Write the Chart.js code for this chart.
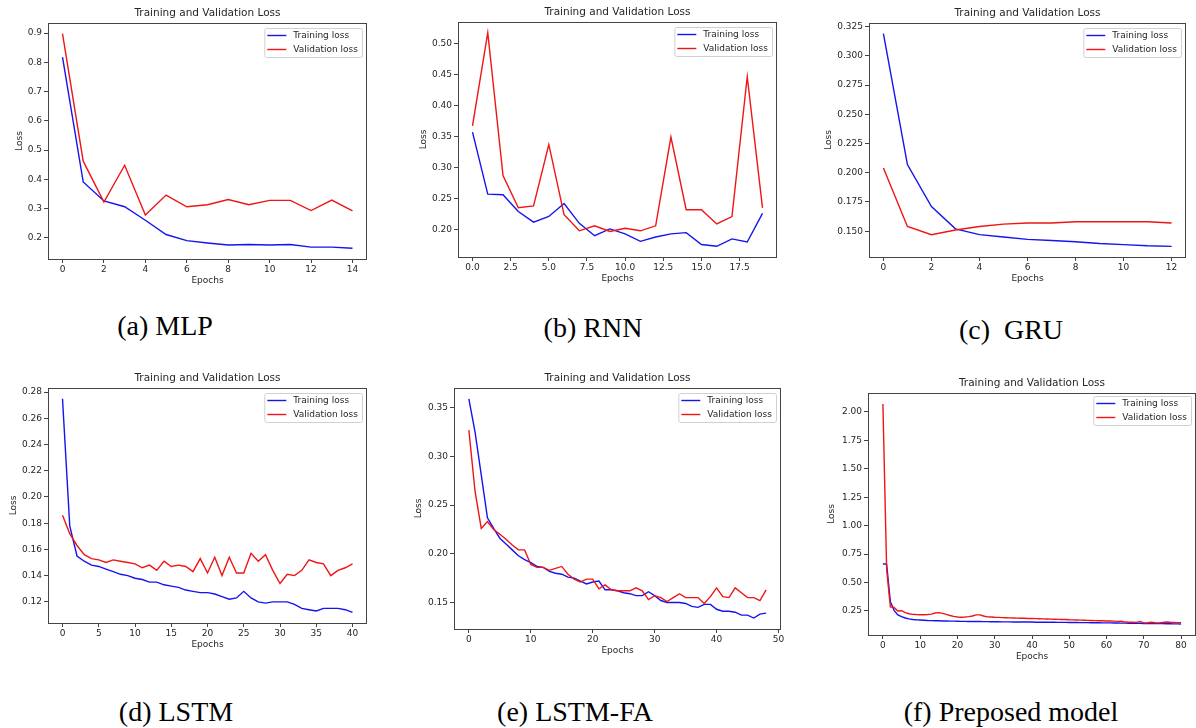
<!DOCTYPE html>
<html>
<head>
<meta charset="utf-8">
<script src="https://cdn.jsdelivr.net/npm/chart.js@4.4.0/dist/chart.umd.min.js"></script>
<style>
  body { margin: 0; background: #fff; width: 1196px; height: 728px; position: relative; overflow: hidden; }
  canvas { position: absolute; }
  .cap { position: absolute; font-family: "Liberation Serif", serif; font-size: 28px; line-height: 1; color: #000; white-space: pre; transform: translate(-50%, -50%); }
</style>
</head>
<body>
<script>
// ---- data ----
const mlpTrain = [0.818, 0.391, 0.326, 0.306, 0.260, 0.211, 0.190, 0.182, 0.175, 0.177, 0.175, 0.177, 0.168, 0.168, 0.164];
const mlpVal   = [0.898, 0.462, 0.322, 0.448, 0.278, 0.346, 0.306, 0.313, 0.331, 0.313, 0.328, 0.328, 0.293, 0.329, 0.292];
const mlpXTicks = ["0", "2", "4", "6", "8", "10", "12", "14"];
const mlpYTicks = ["0.2", "0.3", "0.4", "0.5", "0.6", "0.7", "0.8", "0.9"];

const rnnTrain = [0.357, 0.257, 0.256, 0.229, 0.212, 0.221, 0.242, 0.210, 0.190, 0.201, 0.193, 0.181, 0.188, 0.193, 0.195, 0.176, 0.173, 0.185, 0.180, 0.226];
const rnnVal   = [0.367, 0.517, 0.287, 0.235, 0.238, 0.337, 0.224, 0.198, 0.206, 0.197, 0.202, 0.198, 0.206, 0.349, 0.232, 0.232, 0.209, 0.221, 0.446, 0.235];
const rnnXTicks = ["0.0", "2.5", "5.0", "7.5", "10.0", "12.5", "15.0", "17.5"];
const rnnYTicks = ["0.20", "0.25", "0.30", "0.35", "0.40", "0.45", "0.50"];

const gruTrain = [0.319, 0.207, 0.171, 0.152, 0.147, 0.145, 0.143, 0.142, 0.141, 0.1395, 0.1385, 0.1375, 0.137];
const gruVal   = [0.204, 0.154, 0.147, 0.151, 0.154, 0.156, 0.157, 0.157, 0.158, 0.158, 0.158, 0.158, 0.157];
const gruXTicks = ["0", "2", "4", "6", "8", "10", "12"];
const gruYTicks = ["0.150", "0.175", "0.200", "0.225", "0.250", "0.275", "0.300", "0.325"];

const lstmTrain = [0.275, 0.178, 0.155, 0.151, 0.148, 0.147, 0.145, 0.143, 0.141, 0.140,
                   0.138, 0.137, 0.135, 0.135, 0.133, 0.132, 0.131, 0.129, 0.128, 0.127,
                   0.127, 0.126, 0.124, 0.122, 0.123, 0.128, 0.123, 0.120, 0.119, 0.120,
                   0.120, 0.120, 0.118, 0.115, 0.114, 0.113, 0.115, 0.115, 0.115, 0.114, 0.112];
const lstmVal   = [0.186, 0.172, 0.163, 0.156, 0.153, 0.152, 0.150, 0.152, 0.151, 0.150,
                   0.149, 0.146, 0.148, 0.144, 0.151, 0.147, 0.148, 0.147, 0.143, 0.153,
                   0.142, 0.154, 0.140, 0.154, 0.142, 0.142, 0.157, 0.151, 0.156, 0.144,
                   0.134, 0.141, 0.140, 0.144, 0.152, 0.150, 0.149, 0.140, 0.144, 0.146, 0.149];
const lstmXTicks = ["0", "5", "10", "15", "20", "25", "30", "35", "40"];
const lstmYTicks = ["0.12", "0.14", "0.16", "0.18", "0.20", "0.22", "0.24", "0.26", "0.28"];

const faTrain = [0.359, 0.325, 0.281, 0.237, 0.226, 0.216, 0.210, 0.204, 0.198, 0.194,
                 0.191, 0.187, 0.186, 0.182, 0.180, 0.179, 0.176, 0.175, 0.172, 0.169,
                 0.171, 0.172, 0.163, 0.163, 0.162, 0.160, 0.159, 0.157, 0.157, 0.161,
                 0.157, 0.152, 0.150, 0.150, 0.150, 0.149, 0.146, 0.145, 0.148, 0.148,
                 0.143, 0.141, 0.141, 0.140, 0.137, 0.137, 0.134, 0.138, 0.139];
const faVal   = [0.327, 0.264, 0.226, 0.233, 0.225, 0.220, 0.215, 0.209, 0.204, 0.204,
                 0.189, 0.186, 0.186, 0.183, 0.185, 0.187, 0.179, 0.174, 0.171, 0.174,
                 0.174, 0.164, 0.168, 0.163, 0.162, 0.162, 0.162, 0.165, 0.162, 0.153,
                 0.157, 0.155, 0.151, 0.155, 0.159, 0.155, 0.155, 0.155, 0.149, 0.156,
                 0.165, 0.156, 0.155, 0.165, 0.160, 0.155, 0.155, 0.152, 0.163];
const faXTicks = ["0", "10", "20", "30", "40", "50"];
const faYTicks = ["0.15", "0.20", "0.25", "0.30", "0.35"];

const propTrain = [0.665, 0.660, 0.330, 0.255, 0.215, 0.200, 0.188, 0.180, 0.175, 0.172,
                   0.170, 0.168, 0.166, 0.165, 0.164, 0.163, 0.162, 0.161, 0.160, 0.160,
                   0.159, 0.158, 0.158, 0.157, 0.157, 0.157, 0.157, 0.156, 0.156, 0.155,
                   0.155, 0.155, 0.154, 0.154, 0.154, 0.153, 0.153, 0.153, 0.152, 0.152,
                   0.152, 0.151, 0.151, 0.151, 0.150, 0.150, 0.150, 0.149, 0.149, 0.149,
                   0.148, 0.148, 0.148, 0.147, 0.147, 0.147, 0.146, 0.146, 0.146, 0.145,
                   0.145, 0.145, 0.144, 0.144, 0.143, 0.143, 0.142, 0.142, 0.141, 0.141,
                   0.140, 0.140, 0.139, 0.139, 0.138, 0.138, 0.137, 0.137, 0.136, 0.136, 0.135];
const propVal   = [2.070, 0.620, 0.285, 0.280, 0.250, 0.252, 0.235, 0.225, 0.220, 0.218,
                   0.217, 0.217, 0.218, 0.222, 0.232, 0.235, 0.228, 0.220, 0.210, 0.202,
                   0.197, 0.195, 0.196, 0.200, 0.205, 0.215, 0.215, 0.205, 0.198, 0.196,
                   0.194, 0.193, 0.191, 0.190, 0.189, 0.188, 0.187, 0.186, 0.185, 0.184,
                   0.183, 0.182, 0.181, 0.180, 0.179, 0.178, 0.177, 0.176, 0.175, 0.174,
                   0.172, 0.171, 0.170, 0.169, 0.168, 0.167, 0.166, 0.165, 0.164, 0.163,
                   0.162, 0.161, 0.160, 0.158, 0.159, 0.152, 0.150, 0.150, 0.149, 0.158,
                   0.145, 0.146, 0.150, 0.146, 0.145, 0.148, 0.152, 0.150, 0.149, 0.147, 0.147];
const propXTicks = ["0", "10", "20", "30", "40", "50", "60", "70", "80"];
const propYTicks = ["0.25", "0.50", "0.75", "1.00", "1.25", "1.50", "1.75", "2.00"];

const seriesLabels = ["Training loss", "Validation loss"];
const plotTitle = "Training and Validation Loss";

// ---- layout: axes box [left, top, right, bottom] in page px ----
const panels = [
  { train: mlpTrain,  val: mlpVal,  xt: mlpXTicks,  yt: mlpYTicks,  box: [48, 23, 367, 259],  yl: 28, leg: 5, cap: "(a) MLP",            capAt: [165, 326] },
  { train: rnnTrain,  val: rnnVal,  xt: rnnXTicks,  yt: rnnYTicks,  box: [458, 22, 777, 257], yl: 34, leg: 5, cap: "(b) RNN",            capAt: [593, 328] },
  { train: gruTrain,  val: gruVal,  xt: gruXTicks,  yt: gruYTicks,  box: [869, 23, 1186, 257], yl: 40, leg: 5, cap: "(c)  GRU",          capAt: [1011, 330] },
  { train: lstmTrain, val: lstmVal, xt: lstmXTicks, yt: lstmYTicks, box: [48, 388, 367, 623], yl: 34, leg: 5, cap: "(d) LSTM",           capAt: [176, 712] },
  { train: faTrain,   val: faVal,   xt: faXTicks,   yt: faYTicks,   box: [454, 388, 781, 629], yl: 35, leg: 5, cap: "(e) LSTM-FA",        capAt: [575, 712] },
  { train: propTrain, val: propVal, xt: propXTicks, yt: propYTicks, box: [868, 393, 1196, 635], yl: 36, leg: 3, cap: "(f) Preposed model", capAt: [1011, 712] }
];

const BLUE = "#1414f0";
const RED = "#f01414";
const INK = "#262626";
const YW = 48, XH = 32, TOP = 22;
const tickFont = { family: "DejaVu Sans", size: 9 };

const framePlugin = {
  id: "frame",
  afterDraw(chart) {
    const ctx = chart.ctx, ca = chart.chartArea, p = chart.options.plugins.frame;
    ctx.save();
    // spines
    ctx.strokeStyle = "#444";
    ctx.lineWidth = 1;
    ctx.strokeRect(Math.round(ca.left) + 0.5, Math.round(ca.top) + 0.5, Math.round(ca.right - ca.left) - 1, Math.round(ca.bottom - ca.top));
    // title
    ctx.fillStyle = INK;
    ctx.font = '10.5px "DejaVu Sans"';
    ctx.textAlign = "center";
    ctx.textBaseline = "middle";
    ctx.fillText(plotTitle, (ca.left + ca.right) / 2, ca.top - 10);
    // legend
    ctx.font = '9px "DejaVu Sans"';
    const ds = chart.data.datasets;
    const tw = Math.max(...ds.map(d => ctx.measureText(d.label).width));
    const bw = tw + 33, bh = 29;
    const bx = ca.right - 5 - bw, by = ca.top + p.leg;
    ctx.beginPath();
    ctx.roundRect(bx + 0.5, by + 0.5, bw, bh, 2);
    ctx.fillStyle = "rgba(255,255,255,0.8)";
    ctx.fill();
    ctx.strokeStyle = "#d0d0d0";
    ctx.stroke();
    ds.forEach((d, i) => {
      const y = by + 7.5 + i * 14;
      ctx.strokeStyle = d.borderColor;
      ctx.lineWidth = 1.4;
      ctx.beginPath();
      ctx.moveTo(bx + 3, y);
      ctx.lineTo(bx + 22, y);
      ctx.stroke();
      ctx.fillStyle = INK;
      ctx.textAlign = "left";
      ctx.fillText(d.label, bx + 29, y);
    });
    ctx.restore();
  }
};

function extent(a, b) {
  const lo = Math.min(...a, ...b), hi = Math.max(...a, ...b), m = (hi - lo) * 0.05;
  return [lo - m, hi + m];
}

panels.forEach(p => {
  const [x0, y0, x1, y1] = p.box;
  const padR = Math.min(10, 1196 - x1);
  const cv = document.createElement("canvas");
  const W = (x1 - x0) + YW + padR, H = (y1 - y0) + TOP + XH;
  cv.width = W; cv.height = H;
  cv.style.left = (x0 - YW) + "px";
  cv.style.top = (y0 - TOP) + "px";
  document.body.appendChild(cv);

  const n = p.train.length - 1;
  const [ymin, ymax] = extent(p.train, p.val);

  new Chart(cv.getContext("2d"), {
    type: "line",
    data: {
      datasets: [
        { label: seriesLabels[0], data: p.train.map((v, i) => ({ x: i, y: v })), borderColor: BLUE, borderWidth: 1.4, pointRadius: 0, tension: 0, order: 1 },
        { label: seriesLabels[1], data: p.val.map((v, i) => ({ x: i, y: v })), borderColor: RED, borderWidth: 1.4, pointRadius: 0, tension: 0, order: 0 }
      ]
    },
    options: {
      responsive: false,
      animation: false,
      devicePixelRatio: 1,
      layout: { padding: { top: TOP, right: padR, left: 0, bottom: 0 } },
      plugins: { legend: { display: false }, tooltip: { enabled: false }, frame: { leg: p.leg } },
      scales: {
        x: {
          type: "linear", min: -0.05 * n, max: 1.05 * n,
          afterFit: s => { s.height = XH; },
          afterBuildTicks: s => { s.ticks = p.xt.map(t => ({ value: parseFloat(t) })); },
          ticks: { callback: (v, i) => p.xt[i], autoSkip: false, maxRotation: 0, padding: 1, color: INK, font: tickFont },
          grid: { drawOnChartArea: false, tickLength: 4, color: "#444" },
          border: { display: false },
          title: { display: true, text: "Epochs", color: INK, font: tickFont, padding: { top: 0, bottom: 4.6 } }
        },
        y: {
          type: "linear", min: ymin, max: ymax,
          afterFit: s => { s.width = YW; },
          afterBuildTicks: s => { s.ticks = p.yt.map(t => ({ value: parseFloat(t) })); },
          ticks: { callback: (v, i) => p.yt[i], autoSkip: false, padding: 2, color: INK, font: tickFont },
          grid: { drawOnChartArea: false, tickLength: 4, color: "#444" },
          border: { display: false },
          title: { display: true, text: "Loss", color: INK, font: tickFont, padding: { top: YW - p.yl - 5.4, bottom: 0 } }
        }
      }
    },
    plugins: [framePlugin]
  });

  const cap = document.createElement("div");
  cap.className = "cap";
  cap.textContent = p.cap;
  cap.style.left = p.capAt[0] + "px";
  cap.style.top = p.capAt[1] + "px";
  document.body.appendChild(cap);
});
</script>
</body>
</html>
